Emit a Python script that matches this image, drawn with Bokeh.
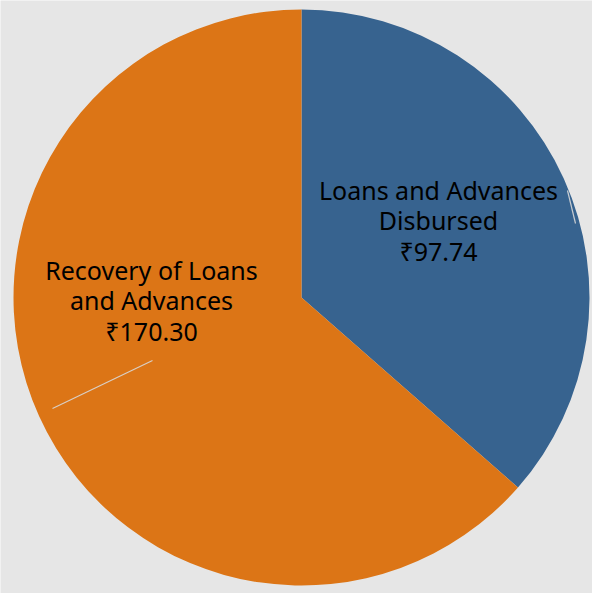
import math
from bokeh.plotting import figure
from bokeh.models import Range1d, ColumnDataSource
from bokeh.core.properties import value
from bokeh.embed import file_html
from bokeh.resources import INLINE

# ---- data ----
categories = ["Loans and Advances Disbursed", "Recovery of Loans and Advances"]
amounts = [97.74, 170.30]
label_lines = [["Loans and Advances", "Disbursed"], ["Recovery of Loans", "and Advances"]]
colors = ["#37638f", "#dc7516"]

# ---- layout (pixel-like data units, pie centred at 0,0) ----
W, H = 592, 593
R = 288
x0, y0 = -301, -296  # left / bottom edge relative to pie centre

total = sum(amounts)
starts, ends = [], []
a = math.pi / 2
for v in amounts:
    sweep = 2 * math.pi * v / total
    starts.append(a - sweep)
    ends.append(a)
    a -= sweep

src = ColumnDataSource(dict(start=starts, end=ends, color=colors, cat=categories))

p = figure(width=W, height=H, output_backend="svg", toolbar_location=None,
           x_range=Range1d(x0, x0 + W), y_range=Range1d(y0, y0 + H),
           min_border=0, background_fill_color="#e6e6e6",
           border_fill_color="#e6e6e6", outline_line_color=None)
p.axis.visible = False
p.grid.visible = False

p.wedge(x=0, y=0, radius=R, start_angle="start", end_angle="end",
        fill_color="color", line_color=None, source=src)

# leader lines
p.segment(x0=[-249, 266], y0=[-111, 107], x1=[-149, 274], y1=[-63, 74],
          line_color="#d8d8d8", line_width=1.2, line_alpha=0.9)

# labels
label_pos = [(137, 77), (-150, -3)]
texts = [
    "\n".join(lines + ["\u20b9%.2f" % v])
    for lines, v in zip(label_lines, amounts)
]
p.text(x=[q[0] for q in label_pos], y=[q[1] for q in label_pos], text=texts,
       text_align="center", text_baseline="middle",
       text_font=value("Noto Sans"), text_font_size="25px",
       text_line_height=0.91, text_color="#000000")

open("out.html", "w").write(file_html(p, INLINE))
